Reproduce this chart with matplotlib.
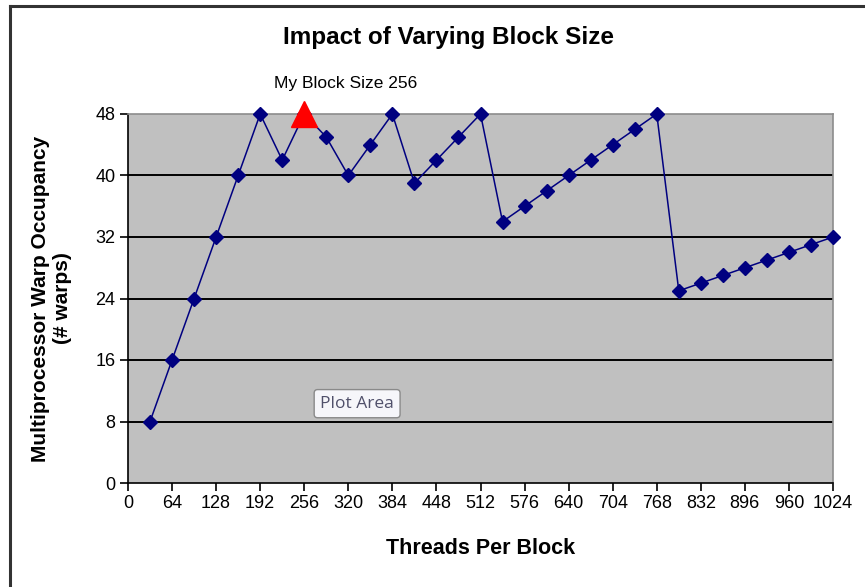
import numpy as np
import matplotlib
matplotlib.use("Agg")
import matplotlib.pyplot as plt
from matplotlib.lines import Line2D

plt.rcParams["font.family"] = ["Liberation Sans", "DejaVu Sans"]

# threads per block vs. warp occupancy
threads = [32, 64, 96, 128, 160, 192, 224, 256, 288, 320, 352, 384, 416, 448, 480, 512,
           544, 576, 608, 640, 672, 704, 736, 768, 800, 832, 864, 896, 928, 960, 992, 1024]
warps = [8, 16, 24, 32, 40, 48, 42, 48, 45, 40, 44, 48, 39, 42, 45, 48,
         34, 36, 38, 40, 42, 44, 46, 48, 25, 26, 27, 28, 29, 30, 31, 32]
my_block = 256
my_warps = 48
x_ticks = list(range(0, 1025, 64))
y_ticks = list(range(0, 49, 8))

W, H = 865, 587
fig = plt.figure(figsize=(W / 100, H / 100), dpi=100)
ax = fig.add_axes([128 / W, 1 - 483 / H, (833 - 128) / W, (483 - 114) / H])
ax.set_facecolor("#c0c0c0")

for y in y_ticks[1:-1]:
    ax.axhline(y, color="black", lw=1.4, zorder=1)

ax.plot(threads, warps, color="#000080", lw=1.1, marker="D", ms=7,
        mfc="#000080", mec="#000080", zorder=3, clip_on=False)
ax.plot([my_block], [my_warps], marker="^", ms=19, color="#ff0000",
        ls="none", zorder=4, clip_on=False)
ax.annotate(f"My Block Size {my_block}", (my_block, my_warps), xytext=(29.5, 22),
            textcoords="offset points", ha="center", va="center", fontsize=12.5)

ax.set_xlim(0, 1024)
ax.set_ylim(0, 48)
ax.set_xticks(x_ticks)
ax.set_yticks(y_ticks)
ax.tick_params(direction="out", length=6, width=1.2, labelsize=13, pad=3)
for s in ["left", "bottom"]:
    ax.spines[s].set_color("black")
    ax.spines[s].set_linewidth(1.2)
for s in ["top", "right"]:
    ax.spines[s].set_color("#8c8c8c")
    ax.spines[s].set_linewidth(1.2)

ax.set_title("Impact of Varying Block Size", fontsize=17.5, fontweight="bold",
             pad=0, x=0.455, y=1.19)
ax.set_xlabel("Threads Per Block", fontsize=15.5, fontweight="bold", labelpad=18)
ax.set_ylabel("Multiprocessor Warp Occupancy\n(# warps)", fontsize=15,
              fontweight="bold", labelpad=17, linespacing=1.2)

# tooltip box
ax.text(0.325, 0.215, "Plot Area", transform=ax.transAxes, ha="center", va="center",
        fontsize=12.5, color="#50506a", family=["Open Sans", "DejaVu Sans"],
        bbox=dict(boxstyle="round,pad=0.35,rounding_size=0.2", fc="#f6f6fa",
                  ec="#8a8a8a", lw=1.0), zorder=5)

# outer chart border
fig.add_artist(Line2D([10 / W, 1], [1 - 6 / H, 1 - 6 / H], color="#333333", lw=2.2))
fig.add_artist(Line2D([10 / W, 10 / W], [0, 1 - 6 / H], color="#333333", lw=2.2))

fig.savefig("out.png", dpi=100)
